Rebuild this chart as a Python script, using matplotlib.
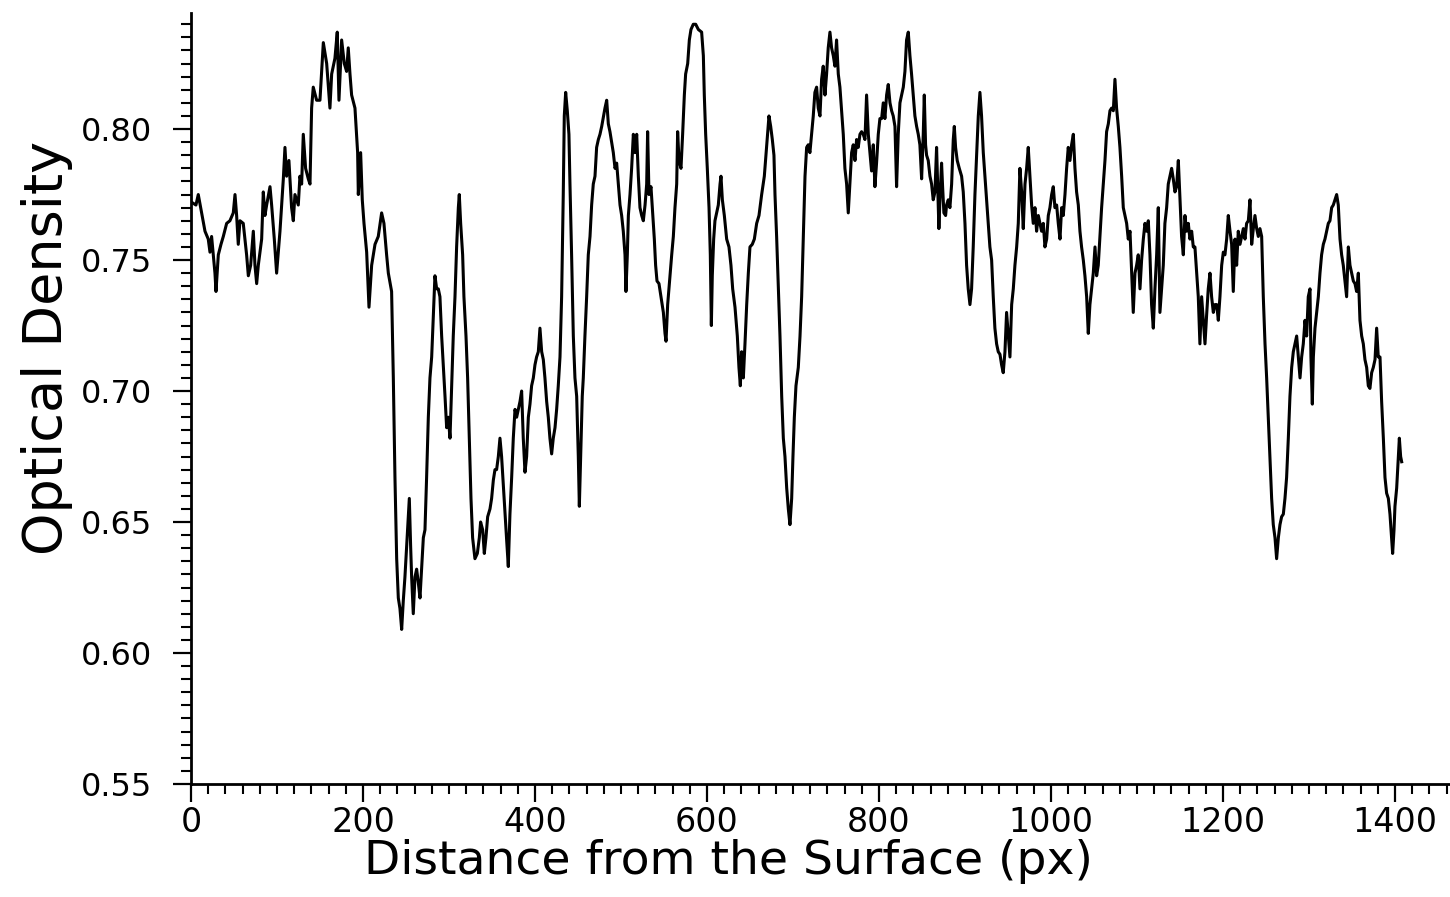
import matplotlib
matplotlib.use('Agg')
import matplotlib.pyplot as plt
from matplotlib.ticker import MultipleLocator, FormatStrFormatter
import numpy as np


# optical density profile, (distance px, OD), in pieces
profile_0_233 = [
    (1, .772), (5.8, .771), (8.5, .775), (12.4, .768), (16.3, .761), (20.1, .758),
    (22.1, .753), (24.0, .759), (27.9, .745), (29.1, .738), (31.8, .752), (34.9, .756),
    (37.6, .759), (41.5, .764), (45.3, .765), (49.2, .768), (51.2, .775), (53.1, .767),
    (55.0, .756), (57.0, .765), (60.8, .764), (64.7, .752), (66.7, .744), (69.4, .748),
    (72.5, .761), (74.4, .748), (76.4, .741), (78.3, .748), (82.2, .758), (84.1, .776),
    (86.0, .767), (88.0, .771), (91.9, .778), (93.8, .771), (96.9, .758), (99.6, .745),
    (103.5, .761), (107.4, .781), (109.3, .793), (111.2, .782), (113.9, .788), (117.0, .770),
    (119.0, .765), (120.9, .775), (124.8, .771), (126.7, .782), (128.7, .779), (130.6, .798),
    (133.3, .785), (136.4, .781), (138.4, .779), (140.3, .808), (142.2, .816), (146.1, .811),
    (150.0, .811), (153.9, .833), (157.8, .825), (161.6, .808), (163.6, .821), (167.4, .827),
    (170.1, .837), (172.1, .811), (175.2, .834), (178.3, .825), (181.0, .822), (182.9, .831),
    (184.9, .821), (186.8, .813), (190.7, .808), (193.8, .791), (194.6, .775), (197.3, .791),
    (199.2, .773), (201.2, .764), (204.3, .753), (207.0, .732), (210.1, .748), (214.0, .756),
    (217.8, .759), (221.7, .768), (224.4, .764), (227.5, .752), (229.5, .745), (233.3, .738),
]
profile_235_476 = [
    (235.3, .705), (237.2, .667), (239.2, .636), (241.1, .621), (243.0, .617), (245.0, .609),
    (246.9, .620), (248.8, .629), (250.8, .641), (252.7, .652), (253.9, .659), (255.4, .641),
    (256.6, .629), (258.5, .615), (260.5, .629), (262.4, .632), (264.3, .627), (266.3, .621),
    (268.2, .632), (270.2, .644), (272.1, .647), (274.0, .667), (276.0, .690), (277.9, .705),
    (279.9, .713), (281.8, .729), (283.7, .744), (285.7, .739), (287.6, .739), (289.5, .736),
    (291.5, .721), (293.4, .710), (295.4, .698), (297.3, .686), (299.2, .690), (301.2, .682),
    (303.1, .702), (305.0, .721), (307.0, .736), (308.9, .755), (310.9, .770), (312.0, .775),
    (313.6, .764), (315.9, .752), (317.4, .736), (319.8, .721), (321.7, .705), (323.6, .682),
    (325.6, .659), (327.5, .644), (330.2, .636), (333.0, .638), (335.3, .644), (336.8, .650),
    (339.2, .647), (341.1, .638), (343.0, .644), (345.0, .652), (347.7, .655), (349.6, .659),
    (351.6, .666), (353.5, .670), (355.4, .670), (357.4, .675), (359.3, .682), (361.2, .675),
    (363.2, .664), (365.1, .653), (367.1, .643), (369.0, .633), (370.9, .653), (372.9, .667),
    (374.8, .682), (376.8, .693), (378.7, .690), (380.6, .693), (382.6, .696), (384.5, .700),
    (386.4, .682), (388.4, .669), (390.3, .675), (392.3, .690), (394.2, .695), (396.1, .702),
    (398.1, .705), (400.0, .710), (401.9, .713), (403.9, .715), (405.8, .724), (407.8, .715),
    (409.7, .712), (411.6, .705), (413.6, .696), (415.5, .690), (417.4, .682), (419.4, .676),
    (421.3, .682), (423.3, .686), (425.2, .693), (427.1, .702), (429.1, .713), (431.0, .736),
    (432.9, .775), (434.1, .805), (435.7, .814), (437.6, .807), (439.5, .798), (440.7, .779),
    (442.6, .752), (444.6, .721), (446.5, .705), (448.5, .698), (450.4, .675), (451.6, .656),
    (453.1, .675), (455.0, .698), (456.2, .705), (458.1, .721), (460.1, .736), (462.0, .752),
    (464.0, .759), (465.9, .771), (467.8, .779), (469.8, .782), (471.7, .793), (473.7, .796),
    (475.6, .798),
]
profile_477_714 = [
    (477.6, .801), (481.4, .808), (483.4, .811), (485.3, .802), (487.2, .799), (491.1, .791),
    (493.1, .785), (495.0, .787), (496.9, .779), (498.9, .771), (500.8, .767), (502.7, .761),
    (504.7, .752), (505.8, .738), (507.4, .752), (508.6, .767), (510.5, .775), (512.4, .785),
    (514.4, .798), (516.3, .791), (518.3, .798), (520.2, .782), (522.1, .770), (524.1, .767),
    (526.0, .765), (528.0, .771), (529.9, .779), (531.0, .799), (532.6, .775), (534.9, .778),
    (536.5, .770), (537.6, .764), (538.8, .758), (540.3, .748), (541.9, .742), (544.2, .741),
    (546.5, .736), (549.3, .730), (551.2, .722), (552.4, .719), (554.3, .733), (557.0, .744),
    (559.0, .752), (560.9, .759), (562.8, .770), (564.8, .779), (565.9, .799), (567.5, .788),
    (569.8, .785), (571.7, .798), (573.7, .813), (575.2, .821), (577.6, .825), (579.5, .834),
    (581.4, .838), (584.1, .840), (586.9, .840), (590.0, .838), (593.8, .837), (595.8, .828),
    (596.9, .813), (598.5, .798), (600.4, .785), (602.4, .770), (603.9, .752), (605.1, .725),
    (606.2, .744), (607.8, .758), (609.3, .765), (611.3, .768), (613.2, .771), (615.2, .779),
    (616.3, .782), (617.9, .773), (620.2, .767), (622.9, .758), (625.6, .755), (627.9, .748),
    (629.9, .739), (632.6, .732), (635.3, .721), (637.2, .709), (638.8, .702), (640.3, .715),
    (642.3, .705), (644.2, .718), (646.2, .733), (648.1, .745), (650.0, .755), (652.7, .756),
    (655.1, .758), (657.8, .764), (660.5, .767), (663.6, .775), (666.7, .782), (668.6, .790),
    (670.6, .798), (672.1, .805), (674.1, .801), (676.0, .796), (677.9, .790), (679.1, .775),
    (681.0, .759), (683.0, .739), (684.9, .721), (686.9, .698), (688.8, .682), (690.7, .675),
    (692.7, .663), (694.6, .655), (696.5, .649), (698.5, .659), (700.0, .675), (701.6, .690),
    (703.5, .702), (706.2, .709), (708.2, .721), (710.1, .736), (712.1, .759), (714.0, .782),
]
profile_716_952 = [
    (715.9, .793), (717.8, .794), (719.7, .791), (721.7, .798), (723.6, .805), (725.5, .814),
    (727.5, .816), (729.4, .808), (731.4, .805), (733.3, .819), (735.2, .824), (737.2, .813),
    (739.1, .821), (741.0, .831), (743.0, .837), (744.9, .831), (746.9, .828), (748.8, .824),
    (750.7, .834), (752.7, .821), (754.6, .816), (756.6, .807), (758.5, .798), (760.4, .785),
    (762.4, .779), (764.3, .768), (766.2, .779), (768.2, .791), (770.1, .794), (772.1, .788),
    (774.0, .796), (775.9, .793), (777.9, .798), (779.8, .799), (781.7, .798), (783.7, .796),
    (785.6, .813), (787.6, .798), (789.5, .791), (791.4, .784), (793.4, .794), (795.3, .778),
    (797.2, .787), (799.2, .798), (801.1, .804), (803.1, .804), (805.0, .810), (806.9, .804),
    (808.9, .813), (810.8, .817), (812.8, .810), (814.7, .807), (816.6, .805), (818.6, .801),
    (820.5, .778), (822.4, .798), (824.4, .810), (826.3, .813), (828.3, .816), (830.2, .822),
    (832.1, .834), (834.1, .837), (836.0, .828), (837.9, .821), (839.9, .813), (841.8, .805),
    (843.8, .801), (845.7, .798), (847.6, .794), (849.6, .781), (851.5, .798), (852.7, .813),
    (854.2, .794), (855.4, .790), (857.3, .788), (859.3, .782), (861.2, .779), (863.1, .773),
    (865.1, .776), (867.0, .793), (868.2, .779), (869.7, .762), (870.9, .773), (872.8, .787),
    (874.0, .778), (875.5, .768), (877.5, .767), (878.6, .771), (880.6, .773), (882.5, .770),
    (884.5, .779), (886.4, .796), (887.6, .801), (889.1, .793), (891.0, .788), (893.4, .785),
    (896.1, .782), (898.0, .776), (900.0, .764), (901.9, .748), (903.8, .739), (905.8, .733),
    (907.7, .739), (909.6, .755), (911.6, .775), (913.5, .790), (915.5, .805), (917.4, .814),
    (919.3, .805), (921.3, .791), (923.2, .782), (925.2, .773), (927.1, .764), (929.0, .755),
    (931.0, .750), (932.9, .736), (934.8, .724), (936.8, .718), (938.7, .715), (940.7, .714),
    (942.6, .710), (944.5, .707), (946.5, .715), (948.4, .730), (950.4, .721), (952.3, .713),
]
profile_954_1191 = [
    (954.3, .733), (956.2, .739), (958.1, .748), (960.1, .755), (962.0, .764), (963.9, .785),
    (965.9, .776), (967.8, .762), (969.8, .779), (971.7, .785), (973.6, .793), (975.6, .782),
    (977.5, .771), (979.4, .764), (981.4, .770), (983.3, .761), (985.3, .767), (987.2, .764),
    (989.1, .761), (991.1, .764), (993.0, .755), (995.0, .758), (996.9, .767), (998.8, .770),
    (1000.8, .775), (1002.7, .778), (1004.6, .770), (1006.6, .771), (1008.5, .764), (1010.5, .758),
    (1012.4, .770), (1014.3, .767), (1016.3, .775), (1018.2, .785), (1020.1, .793), (1022.1, .788),
    (1024.0, .794), (1026.0, .798), (1027.9, .785), (1029.8, .776), (1031.8, .771), (1033.7, .761),
    (1035.6, .755), (1037.6, .750), (1039.5, .744), (1041.5, .736), (1043.4, .722), (1045.3, .733),
    (1047.3, .739), (1049.2, .745), (1051.2, .755), (1053.1, .744), (1055.0, .748), (1057.0, .759),
    (1058.9, .770), (1060.8, .779), (1062.8, .788), (1064.7, .799), (1066.7, .802), (1068.6, .807),
    (1070.5, .808), (1072.5, .807), (1074.4, .819), (1076.3, .808), (1078.3, .801), (1080.2, .793),
    (1082.2, .782), (1084.1, .770), (1086.0, .767), (1088.0, .764), (1089.9, .758), (1091.9, .761),
    (1093.8, .745), (1095.7, .730), (1097.7, .745), (1099.6, .748), (1101.5, .752), (1103.5, .739),
    (1105.4, .750), (1107.4, .758), (1109.3, .764), (1111.2, .761), (1113.2, .765), (1115.1, .752),
    (1117.0, .733), (1119.0, .724), (1120.9, .739), (1122.9, .752), (1124.8, .770), (1126.7, .730),
    (1128.7, .739), (1130.6, .748), (1132.5, .764), (1134.5, .770), (1136.4, .779), (1138.4, .782),
    (1140.3, .785), (1142.2, .781), (1144.2, .776), (1146.1, .778), (1148.1, .788), (1150.0, .773),
    (1151.9, .759), (1153.9, .752), (1155.8, .767), (1157.7, .761), (1159.7, .764), (1161.6, .758),
    (1163.6, .761), (1165.5, .755), (1167.4, .755), (1169.4, .745), (1171.3, .736), (1173.2, .718),
    (1175.2, .736), (1177.1, .727), (1179.1, .718), (1181.0, .729), (1182.9, .739), (1184.9, .745),
    (1186.8, .736), (1188.8, .730), (1190.7, .733),
]
profile_1192_1408 = [
    (1192.7, .733), (1194.6, .727), (1196.5, .736), (1198.5, .748), (1200.4, .753), (1202.3, .752),
    (1204.3, .758), (1206.2, .767), (1208.2, .761), (1210.1, .756), (1212.0, .738), (1214.0, .758),
    (1215.9, .748), (1217.8, .761), (1219.8, .756), (1221.7, .759), (1223.7, .762), (1225.6, .758),
    (1227.5, .764), (1229.5, .765), (1231.4, .773), (1233.4, .756), (1235.3, .762), (1237.2, .767),
    (1239.2, .762), (1241.1, .759), (1243.0, .762), (1245.0, .759), (1246.9, .736), (1248.9, .718),
    (1250.8, .705), (1252.7, .690), (1254.7, .675), (1256.6, .659), (1258.5, .649), (1260.5, .644),
    (1262.4, .636), (1264.4, .644), (1266.3, .649), (1268.2, .652), (1270.2, .653), (1272.1, .659),
    (1274.0, .667), (1276.0, .682), (1277.9, .698), (1279.9, .709), (1281.8, .715), (1283.7, .718),
    (1285.7, .721), (1287.6, .713), (1289.6, .705), (1291.5, .713), (1293.4, .718), (1295.4, .727),
    (1297.3, .721), (1299.2, .736), (1301.2, .739), (1302.3, .713), (1303.9, .695), (1305.1, .713),
    (1307.0, .724), (1308.9, .730), (1310.9, .736), (1312.8, .745), (1314.7, .752), (1316.7, .756),
    (1318.6, .758), (1320.6, .761), (1322.5, .764), (1324.4, .765), (1326.4, .770), (1328.3, .771),
    (1330.2, .773), (1332.2, .775), (1334.1, .771), (1336.1, .758), (1338.0, .752), (1339.9, .748),
    (1341.9, .742), (1343.8, .736), (1345.8, .755), (1347.7, .748), (1349.6, .745), (1351.6, .742),
    (1353.5, .741), (1355.4, .738), (1357.4, .745), (1359.3, .727), (1361.3, .721), (1363.2, .718),
    (1365.1, .712), (1367.1, .709), (1369.0, .702), (1370.9, .701), (1372.9, .707), (1374.8, .709),
    (1376.8, .712), (1378.7, .724), (1380.6, .713), (1382.6, .713), (1384.5, .696), (1386.5, .682),
    (1388.4, .667), (1390.3, .661), (1392.3, .659), (1394.2, .653), (1396.1, .644), (1397.3, .638),
    (1398.9, .647), (1400.0, .656), (1402.0, .663), (1403.9, .675), (1405.1, .682), (1406.6, .675),
    (1407.8, .673),
]

x_ticks = [0, 200, 400, 600, 800, 1000, 1200, 1400]
y_ticks = [0.55, 0.60, 0.65, 0.70, 0.75, 0.80]


def main():
    pieces = [profile_0_233, profile_235_476, profile_477_714,
              profile_716_952, profile_954_1191, profile_1192_1408]
    pts = np.array([p for piece in pieces for p in piece])
    dist, od = pts[:, 0], pts[:, 1]

    plt.rcParams.update({
        'font.family': 'DejaVu Sans',
        'xtick.labelsize': 24,
        'ytick.labelsize': 23,
    })
    fig = plt.figure(figsize=(14.5, 8.97), dpi=100)
    ax = fig.add_axes([0.1317, 0.126, 0.8683, 0.8595])
    ax.plot(dist, od, color='k', lw=2.2)

    ax.set_xlim(0, 1464)
    ax.set_ylim(0.55, 0.8443)
    ax.spines['top'].set_visible(False)
    ax.spines['right'].set_visible(False)
    ax.spines['left'].set_linewidth(2)
    ax.spines['bottom'].set_linewidth(2)

    ax.set_xticks(x_ticks)
    ax.set_yticks(y_ticks)
    ax.yaxis.set_major_formatter(FormatStrFormatter('%.2f'))
    ax.xaxis.set_minor_locator(MultipleLocator(20))
    ax.yaxis.set_minor_locator(MultipleLocator(0.005))
    ax.tick_params(which='major', direction='out', length=13, width=1.6)
    ax.tick_params(which='minor', direction='out', length=7, width=1.5)
    ax.tick_params(axis='y', which='major', pad=15)
    ax.tick_params(axis='x', which='major', pad=3)

    ax.set_xlabel('Distance from the Surface (px)', fontsize=34)
    ax.xaxis.set_label_coords(0.4265, -0.071)
    ax.set_ylabel('Optical Density', fontsize=39)
    ax.yaxis.set_label_coords(-0.094, 0.5655)

    fig.savefig('out.png', dpi=100, facecolor='white')


if __name__ == "__main__":
    main()
